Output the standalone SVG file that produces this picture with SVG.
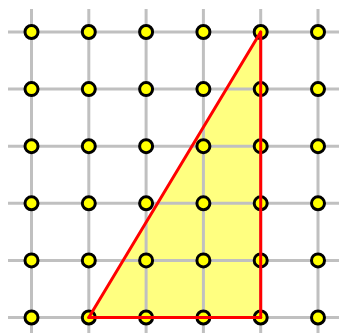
<svg xmlns="http://www.w3.org/2000/svg" width="339" height="333" viewBox="0 0 339 333">
<style>
.grid line{stroke:#c0c0c0;stroke-width:3}
.dot{fill:#ffff00;stroke:#000;stroke-width:3}
.edge{stroke:#ff0000;stroke-width:3;fill:none;stroke-linecap:round}
</style>
<rect width="339" height="333" fill="#fff"/>
<g id="triangle-fill"><polygon points="88.8,317.5 260.7,317.5 260.7,32" fill="#ffff80"/></g>
<g class="grid" id="grid">
<line x1="31.5" y1="9" x2="31.5" y2="333"/>
<line x1="88.8" y1="9" x2="88.8" y2="333"/>
<line x1="146.1" y1="9" x2="146.1" y2="333"/>
<line x1="203.4" y1="9" x2="203.4" y2="333"/>
<line x1="260.7" y1="9" x2="260.7" y2="333"/>
<line x1="318" y1="9" x2="318" y2="333"/>
<line x1="8" y1="32" x2="339" y2="32"/>
<line x1="8" y1="89.1" x2="339" y2="89.1"/>
<line x1="8" y1="146.2" x2="339" y2="146.2"/>
<line x1="8" y1="203.3" x2="339" y2="203.3"/>
<line x1="8" y1="260.4" x2="339" y2="260.4"/>
<line x1="8" y1="317.5" x2="339" y2="317.5"/>
</g>
<g id="dots">
<g id="row1"><circle class="dot" cx="31.5" cy="32" r="6.5"/><circle class="dot" cx="88.8" cy="32" r="6.5"/><circle class="dot" cx="146.1" cy="32" r="6.5"/><circle class="dot" cx="203.4" cy="32" r="6.5"/><circle class="dot" cx="260.7" cy="32" r="6.5"/><circle class="dot" cx="318" cy="32" r="6.5"/></g>
<g id="row2"><circle class="dot" cx="31.5" cy="89.1" r="6.5"/><circle class="dot" cx="88.8" cy="89.1" r="6.5"/><circle class="dot" cx="146.1" cy="89.1" r="6.5"/><circle class="dot" cx="203.4" cy="89.1" r="6.5"/><circle class="dot" cx="260.7" cy="89.1" r="6.5"/><circle class="dot" cx="318" cy="89.1" r="6.5"/></g>
<g id="row3"><circle class="dot" cx="31.5" cy="146.2" r="6.5"/><circle class="dot" cx="88.8" cy="146.2" r="6.5"/><circle class="dot" cx="146.1" cy="146.2" r="6.5"/><circle class="dot" cx="203.4" cy="146.2" r="6.5"/><circle class="dot" cx="260.7" cy="146.2" r="6.5"/><circle class="dot" cx="318" cy="146.2" r="6.5"/></g>
<g id="row4"><circle class="dot" cx="31.5" cy="203.3" r="6.5"/><circle class="dot" cx="88.8" cy="203.3" r="6.5"/><circle class="dot" cx="146.1" cy="203.3" r="6.5"/><circle class="dot" cx="203.4" cy="203.3" r="6.5"/><circle class="dot" cx="260.7" cy="203.3" r="6.5"/><circle class="dot" cx="318" cy="203.3" r="6.5"/></g>
<g id="row5"><circle class="dot" cx="31.5" cy="260.4" r="6.5"/><circle class="dot" cx="88.8" cy="260.4" r="6.5"/><circle class="dot" cx="146.1" cy="260.4" r="6.5"/><circle class="dot" cx="203.4" cy="260.4" r="6.5"/><circle class="dot" cx="260.7" cy="260.4" r="6.5"/><circle class="dot" cx="318" cy="260.4" r="6.5"/></g>
<g id="row6"><circle class="dot" cx="31.5" cy="317.5" r="6.5"/><circle class="dot" cx="88.8" cy="317.5" r="6.5"/><circle class="dot" cx="146.1" cy="317.5" r="6.5"/><circle class="dot" cx="203.4" cy="317.5" r="6.5"/><circle class="dot" cx="260.7" cy="317.5" r="6.5"/><circle class="dot" cx="318" cy="317.5" r="6.5"/></g>
</g>
<g id="connectors">
<line class="edge" x1="88.8" y1="317.5" x2="260.7" y2="317.5"/>
<line class="edge" x1="260.7" y1="317.5" x2="260.7" y2="32"/>
<line class="edge" x1="88.8" y1="317.5" x2="260.7" y2="32" stroke-width="2.5"/>
</g>
</svg>
